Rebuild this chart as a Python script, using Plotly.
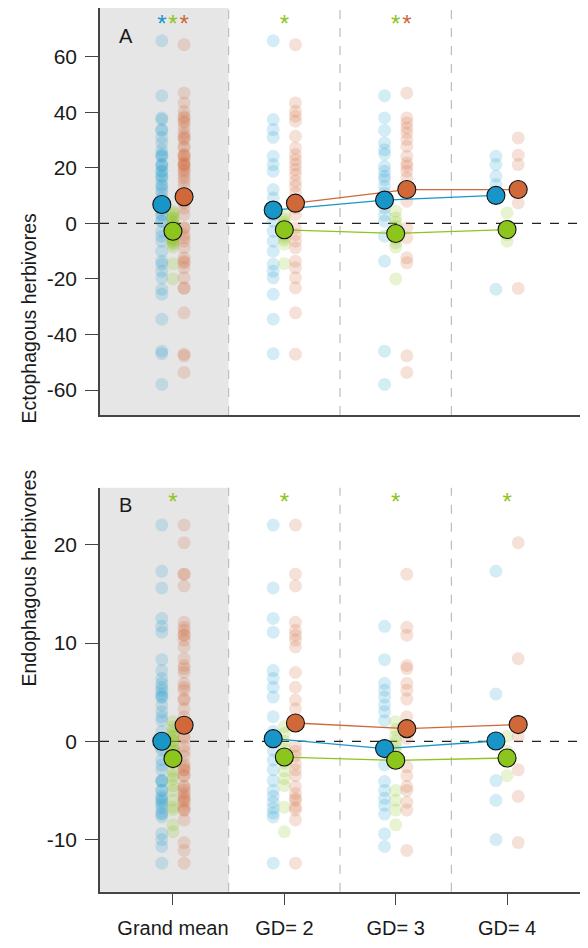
import plotly.graph_objects as go

categories = ["Grand mean", "GD= 2", "GD= 3", "GD= 4"]
groups = ["blue", "green", "orange"]

# ---- Panel A: Ectophagous herbivores (raw points per GD level) ----
ecto_blue = {
    2: [65.8, 37.4, 33.8, 31, 24.2, 21.2, 18.8, 12.2, 9.2, 5, 3.2, 0.8, -2.8, -6.4, -10, -14.7, -17.2, -19.6, -25.5, -34.5, -46.9],
    3: [46, 38, 33.5, 29, 26.5, 25, 20.6, 18.8, 17, 15.8, 13.4, 11, 5.6, 3, 0.8, -4.6, -13.6, -46, -58],
    4: [24.2, 21.2, 17, 14, -23.7],
}
ecto_green = {
    2: [3, 1.5, 0.5, -0.5, -1.5, -2.5, -3, -4, -5, -6, -7.5, -14.5],
    3: [4.4, 2, 0.5, -1, -2.5, -4, -5.5, -7, -8.5, -20],
    4: [3.8, -2, -4, -6.4],
}
ecto_orange = {
    2: [64.4, 43.4, 40.4, 38.6, 36.8, 31.4, 27.2, 24.8, 23, 21.2, 19.4, 17.6, 15.2, 13.4, 11, 5.6, 3.2, -1.6, -4, -6.4, -8.8, -13.6, -16, -19.6, -23.2, -32.2, -47.1],
    3: [47, 38, 36.2, 34.4, 32.6, 30.2, 27.8, 24.2, 21.8, 20.6, 18.8, 16.4, 8, -1.6, -5.2, -12.4, -14.2, -47.7, -53.7],
    4: [30.8, 24.6, 21.2, 7.4, -23.4],
}
ecto_means = {
    "blue": [6.8, 4.8, 8.4, 10.1],
    "green": [-2.8, -2.3, -3.6, -2.2],
    "orange": [9.6, 7.3, 12.2, 12.2],
}
ecto_stars = {"blue": [1], "green": [1, 2, 3], "orange": [1, 3]}
ecto_ticks = [-60, -40, -20, 0, 20, 40, 60]

# ---- Panel B: Endophagous herbivores ----
endo_blue = {
    2: [22, 15.6, 12.5, 11.1, 7.2, 6.4, 5.5, 4.5, 2.5, 1.0, -0.9, -1.9, -2.9, -4, -5, -5.6, -6.2, -6.8, -7.3, -7.7, -12.4],
    3: [11.7, 8.3, 5.9, 5.2, 4.5, 3.7, 3, 2.1, -0.7, -2.4, -4.1, -5, -5.8, -6.5, -7.4, -9.4, -10.7],
    4: [17.3, 4.8, -4, -6, -10],
}
endo_green = {
    2: [1.5, 0.8, 0, -0.8, -1.5, -2.2, -3, -3.8, -4.5, -6.7, -9.2],
    3: [2, 1.2, 0.5, 0, -0.5, -1, -1.5, -2, -5, -6, -7, -8.5],
    4: [0.5, -1, -1.7, -3.5],
}
endo_orange = {
    2: [22, 17, 15.8, 12.1, 11.3, 10.8, 10.3, 9.6, 7, 5.5, 4.2, 3.3, -0.5, -1, -1.5, -2.3, -2.9, -3.5, -4.6, -5.3, -5.8, -6, -6.7, -7, -8, -12.4],
    3: [17, 11.6, 10.8, 7.7, 7.4, 5.9, 5.2, 4.3, 2.5, 1.3, 0.3, -2.6, -3.5, -4.6, -5, -6.2, -7, -11.1],
    4: [20.2, 8.4, 0.5, -2.9, -5.6, -10.3],
}
endo_means = {
    "blue": [0.0, 0.27, -0.74, 0.03],
    "green": [-1.76, -1.6, -1.93, -1.7],
    "orange": [1.63, 1.86, 1.29, 1.7],
}
endo_stars = {"green": [1, 2, 3, 4]}
endo_ticks = [-10, 0, 10, 20]

# ---- styling ----
COL = {"blue": "#1996c8", "green": "#8cc51c", "orange": "#d0683a"}
FADE = {"blue": "rgba(40,160,210,0.20)", "green": "rgba(140,197,28,0.20)", "orange": "rgba(208,104,58,0.20)"}
OFFSET = {"blue": -0.1, "green": 0.0, "orange": 0.1}
XR = [0.345, 4.655]
YR_A = [-69, 77.6]
YR_B = [-15.3, 25.8]
# the page body adds an 8px margin, so the figure is sized to fit inside it
W, H = 572, 932
X0, X1 = 92 / W, 1.0
A_DOM = [1 - 407 / H, 1.0]
B_DOM = [1 - 883.7 / H, 1 - 479.7 / H]
STAR_A = 71.3
STAR_B = 24.1
STAR_SIZE = 24

fig = go.Figure()


def add_panel(raw, means, stars, xa, ya, star_y):
    for g in groups:
        data = raw[g]
        xs, ys = [], []
        # grand mean column: union of all GD levels
        for lvl in (2, 3, 4):
            xs += [1 + OFFSET[g]] * len(data[lvl])
            ys += data[lvl]
        for lvl in (2, 3, 4):
            xs += [lvl + OFFSET[g]] * len(data[lvl])
            ys += data[lvl]
        fig.add_trace(go.Scatter(x=xs, y=ys, mode="markers", xaxis=xa, yaxis=ya,
                                 marker=dict(size=13, color=FADE[g], line=dict(width=0)),
                                 showlegend=False, hoverinfo="skip"))
    for g in groups:
        fig.add_trace(go.Scatter(x=[k + OFFSET[g] for k in (2, 3, 4)], y=means[g][1:],
                                 mode="lines", xaxis=xa, yaxis=ya,
                                 line=dict(color=COL[g], width=1.3),
                                 showlegend=False, hoverinfo="skip"))
    for g in groups:
        fig.add_trace(go.Scatter(x=[k + OFFSET[g] for k in (1, 2, 3, 4)], y=means[g],
                                 mode="markers", xaxis=xa, yaxis=ya,
                                 marker=dict(size=18, color=COL[g], line=dict(color="#111111", width=1.1)),
                                 showlegend=False))
    for g, cats in stars.items():
        fig.add_trace(go.Scatter(x=[c + OFFSET[g] for c in cats], y=[star_y] * len(cats),
                                 mode="text", text=["*"] * len(cats), xaxis=xa, yaxis=ya,
                                 textfont=dict(size=STAR_SIZE, color=COL[g], family="Liberation Sans"),
                                 textposition="middle center", cliponaxis=False,
                                 showlegend=False, hoverinfo="skip"))


add_panel({"blue": ecto_blue, "green": ecto_green, "orange": ecto_orange}, ecto_means, ecto_stars, "x", "y", STAR_A)
add_panel({"blue": endo_blue, "green": endo_green, "orange": endo_orange}, endo_means, endo_stars, "x2", "y2", STAR_B)

shapes = []
for xref, yref in (("x", "y"), ("x2", "y2")):
    shapes.append(dict(type="rect", xref=xref, yref=yref + " domain", x0=XR[0], x1=1.5, y0=0, y1=1,
                       fillcolor="#e6e6e6", line=dict(width=0), layer="below"))
    for xv in (1.5, 2.5, 3.5):
        shapes.append(dict(type="line", xref=xref, yref=yref + " domain", x0=xv, x1=xv, y0=0, y1=1,
                           line=dict(color="#bdbdbd", width=1.2, dash="dash"), layer="below"))
    shapes.append(dict(type="line", xref=xref + " domain", yref=yref, x0=0, x1=1, y0=0, y1=0,
                       line=dict(color="#222222", width=1.2, dash="dash"), layer="below"))

font = dict(family="Liberation Sans, Arial, sans-serif", size=20, color="#1a1a1a")
axis_line = dict(showline=True, linecolor="#444444", linewidth=1.6, showgrid=False, zeroline=False)

fig.update_layout(
    width=W, height=H, margin=dict(l=0, r=0, t=0, b=0),
    plot_bgcolor="white", paper_bgcolor="white", font=font,
    showlegend=False, shapes=shapes,
    xaxis=dict(domain=[X0, X1], range=XR, anchor="y", showticklabels=False, ticks="",
               tickvals=[1, 2, 3, 4], **axis_line),
    yaxis=dict(domain=A_DOM, range=YR_A, anchor="x", tickvals=ecto_ticks,
               ticktext=[str(v) for v in ecto_ticks], tickfont=dict(size=21),
               ticks="outside", ticklen=13, tickcolor="#444444", tickwidth=1.3,
               ticklabelstandoff=4, **axis_line),
    xaxis2=dict(domain=[X0, X1], range=XR, anchor="y2", tickvals=[1, 2, 3, 4], ticktext=categories,
                ticks="outside", ticklen=11, tickcolor="#444444", tickwidth=1.3,
                ticklabelstandoff=6, tickfont=dict(size=20), **axis_line),
    yaxis2=dict(domain=B_DOM, range=YR_B, anchor="x2", tickvals=endo_ticks,
                ticktext=[str(v) for v in endo_ticks], tickfont=dict(size=21),
                ticks="outside", ticklen=13, tickcolor="#444444", tickwidth=1.3,
                ticklabelstandoff=4, **axis_line),
    annotations=[
        dict(text="Ectophagous herbivores", x=7 / W, y=1 - 203 / H, xref="paper", yref="paper",
             textangle=-90, showarrow=False, font=dict(size=19.5)),
        dict(text="Endophagous herbivores", x=7 / W, y=1 - 681 / H, xref="paper", yref="paper",
             textangle=-90, showarrow=False, font=dict(size=19.5)),
        dict(text="A", x=109 / W, y=1 - 15 / H, xref="paper", yref="paper", showarrow=False,
             font=dict(size=20)),
        dict(text="B", x=109 / W, y=1 - 497 / H, xref="paper", yref="paper", showarrow=False,
             font=dict(size=20)),
    ],
)

fig.write_html("out.html")
